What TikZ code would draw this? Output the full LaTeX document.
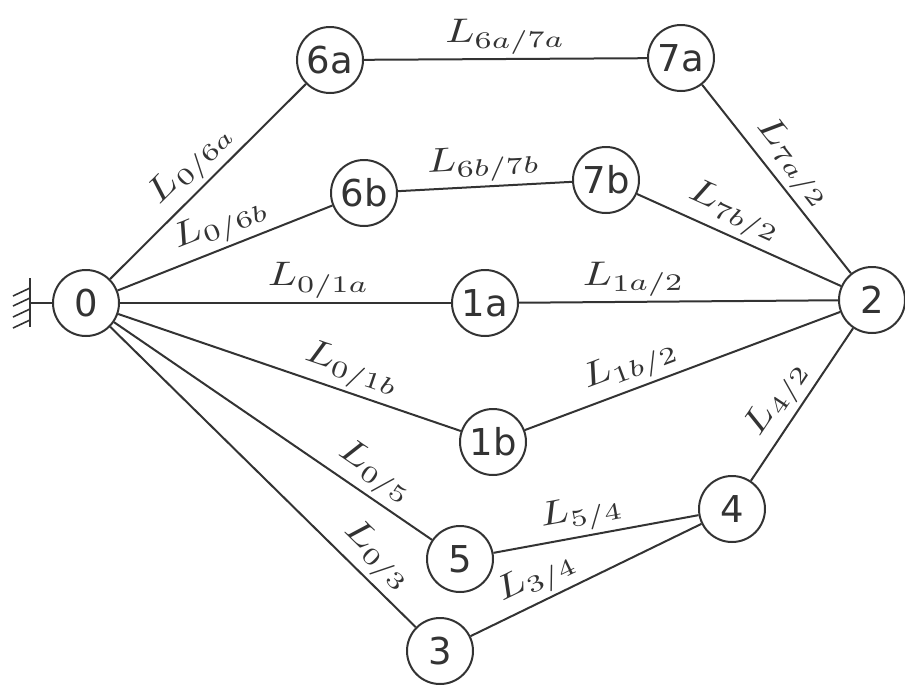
\documentclass[tikz,border=0pt]{standalone}
\usepackage{fontspec}
\newfontfamily\nodefont{DejaVu Sans}
\usetikzlibrary{calc}
\definecolor{ink}{HTML}{333333}
\tikzset{
  nd/.style={circle, draw=ink, line width=2pt, minimum size=66pt, inner sep=0pt,
    font=\nodefont\fontsize{37}{40}\selectfont, text=ink},
  edge/.style={draw=ink, line width=2pt},
  lbl/.style={sloped, above, inner sep=4pt, text=ink},
}
\newcommand{\lab}[1]{\scalebox{4.3}[3.4]{$#1$}}
\begin{document}
\begin{tikzpicture}[x=1pt,y=-1pt]
\useasboundingbox (0,0) rectangle (905,686);
\node[nd] (n0) at (86,303) {0};
\node[nd] (n6a) at (330,60) {6a};
\node[nd] (n7a) at (681,58) {7a};
\node[nd] (n6b) at (364,193) {6b};
\node[nd] (n7b) at (606,180) {7b};
\node[nd] (n1a) at (485,303) {1a};
\node[nd] (n2) at (872,300) {2};
\node[nd] (n1b) at (493,442) {1b};
\node[nd] (n4) at (732,509) {4};
\node[nd] (n5) at (460,559) {5};
\node[nd] (n3) at (440,651) {3};
% ground
\coordinate (g) at (30,303);
\draw[edge] (30,278) -- (30,327);
\draw[edge] (g) -- (n0);
\foreach \y in {288,298,309,320} \draw[edge,line width=1.6pt] (30,\y) -- (13,\y+8);
% edges
\draw[edge] (n0) -- node[lbl,pos=0.5] {\lab{L_{0/6a}}} (n6a);
\draw[edge] (n0) -- node[lbl,pos=0.52] {\lab{L_{0/6b}}} (n6b);
\draw[edge] (n0) -- node[lbl,pos=0.6] {\lab{L_{0/1a}}} (n1a);
\draw[edge] (n0) -- node[lbl,pos=0.66] {\lab{L_{0/1b}}} (n1b);
\draw[edge] (n0) -- node[lbl,pos=0.78] {\lab{L_{0/5}}} (n5);
\draw[edge] (n0) -- node[lbl,pos=0.82] {\lab{L_{0/3}}} (n3);
\draw[edge] (n6a) -- node[lbl,pos=0.5] {\lab{L_{6a/7a}}} (n7a);
\draw[edge] (n6b) -- node[lbl,pos=0.5] {\lab{L_{6b/7b}}} (n7b);
\draw[edge] (n7a) -- node[lbl,pos=0.49] {\lab{L_{7a/2}}} (n2);
\draw[edge] (n7b) -- node[lbl,pos=0.43] {\lab{L_{7b/2}}} (n2);
\draw[edge] (n1a) -- node[lbl,pos=0.36] {\lab{L_{1a/2}}} (n2);
\draw[edge] (n1b) -- node[lbl,pos=0.36] {\lab{L_{1b/2}}} (n2);
\draw[edge] (n4) -- node[lbl,pos=0.45] {\lab{L_{4/2}}} (n2);
\draw[edge] (n5) -- node[lbl,pos=0.45] {\lab{L_{5/4}}} (n4);
\draw[edge] (n3) -- node[lbl,pos=0.33] {\lab{L_{3/4}}} (n4);
\end{tikzpicture}
\end{document}
